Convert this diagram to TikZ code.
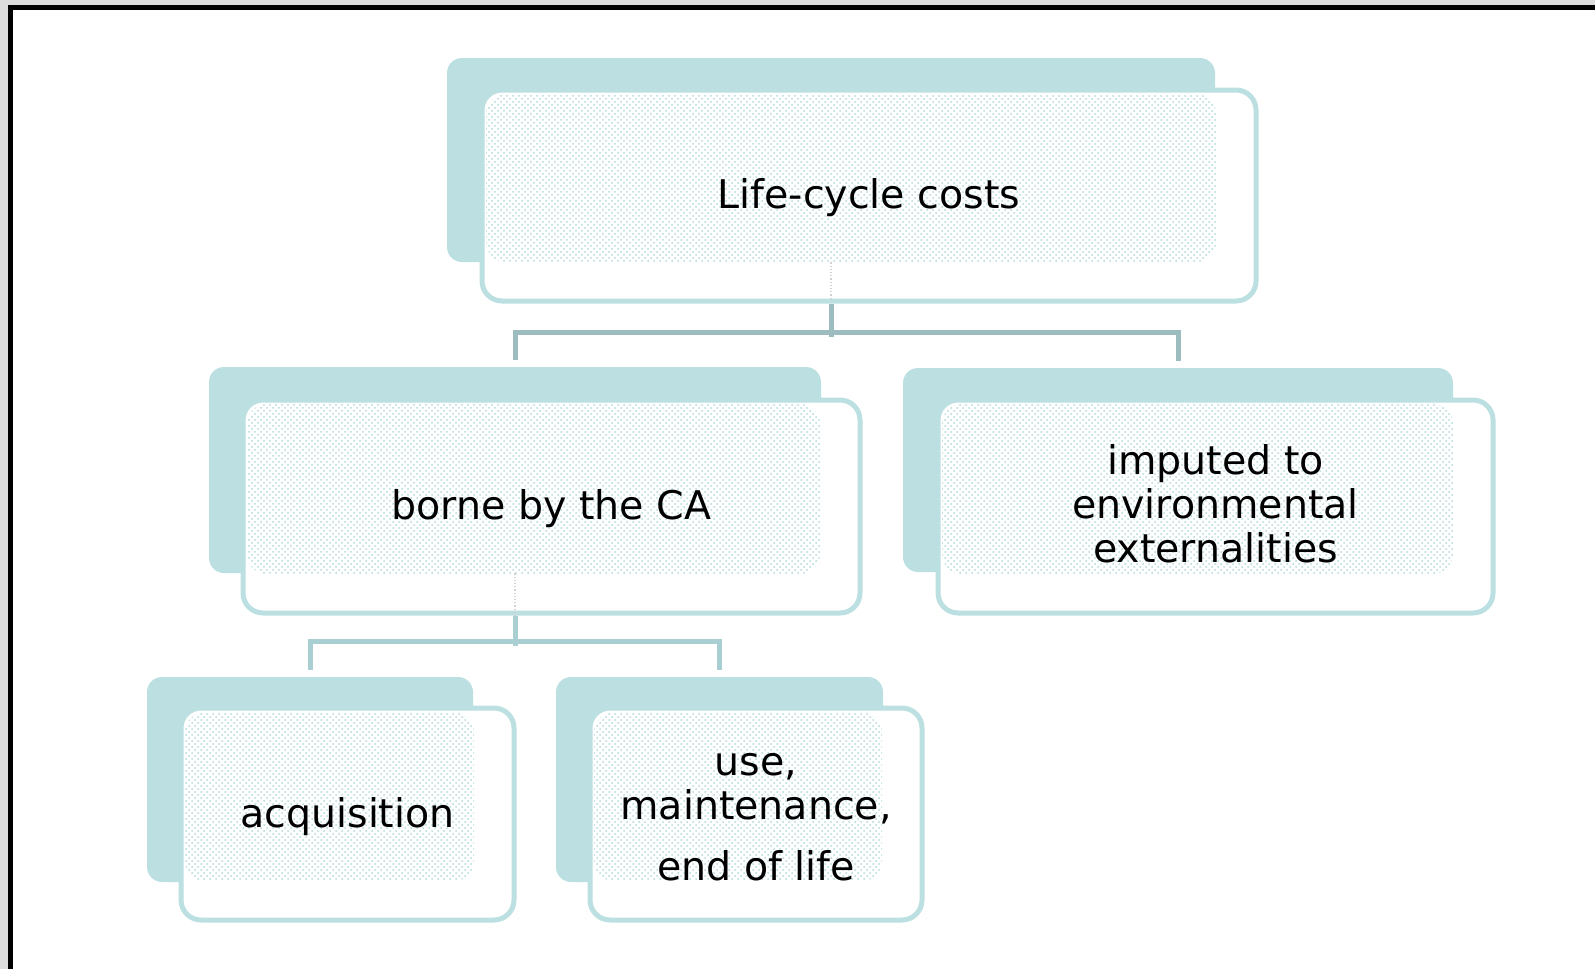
\documentclass[tikz,border=0pt]{standalone}
\usepackage{fontspec}
\setmainfont{DejaVu Sans}
\usetikzlibrary{patterns}

\definecolor{boxteal}{HTML}{BCE0E2}
\definecolor{dotteal}{HTML}{B3D9DC}
\definecolor{linktop}{HTML}{9CBCBF}
\definecolor{linklow}{HTML}{A9CFD2}
\definecolor{framegray}{HTML}{DDDDDD}

\tikzset{
  back/.style={fill=boxteal, rounded corners=7.5pt, inner sep=0pt},
  front/.style={draw=boxteal, line width=2.5pt, fill=white, rounded corners=10pt,
    inner sep=0pt, align=center, font=\fontsize{19.75pt}{22pt}\selectfont,
    path picture={\fill[pattern=crosshatch dots, pattern color=dotteal]
      ([shift={(2pt,-2pt)}]path picture bounding box.north west) rectangle
      ([shift={(-20pt,19.5pt)}]path picture bounding box.south east);}},
  oneline/.style={text height=15pt, text depth=2pt},
  link/.style={line width=2.5pt},
  hidden/.style={densely dotted, line width=0.6pt, black!18}
}

\begin{document}
\begin{tikzpicture}[x=0.5pt, y=-0.5pt]
        \useasboundingbox (0,0) rectangle (1595,969);
        % frame
        \fill[framegray] (0,0) rectangle (1595,969);
        \fill[white] (8,5) rectangle (1595,969);
        \fill[black] (8,5) rectangle (1595,10);
        \fill[black] (8,5) rectangle (13,969);

        % back boxes
        \node[back, minimum width=384pt, minimum height=102pt] at (831, 160)(lcc){};
        \node[back, minimum width=306pt, minimum height=103pt] at (515, 470)(ca){};
        \node[back, minimum width=275pt, minimum height=102pt] at (1178, 470)(ext){};
        \node[back, minimum width=163pt, minimum height=102.5pt] at (310, 779.5)(acq){};
        \node[back, minimum width=163.5pt, minimum height=102.5pt] at (719.5, 779.5)(use){};

        % front boxes
        \node[front, oneline, minimum width=387pt, minimum height=105.5pt] at (869, 195.5)(lccf){Life-cycle costs};
        \node[front, oneline, minimum width=308.5pt, minimum height=106.5pt] at (551.5, 506.5)(caf){borne by the CA};
        \node[front, text depth=3.5pt, minimum width=277.5pt, minimum height=106.5pt] at (1215.5, 506.5)(extf){imputed to\\environmental\\externalities};
        \node[front, oneline, minimum width=166.5pt, minimum height=106pt] at (347.5, 814)(acqf){acquisition};
        \node[front, text height=66pt, text depth=0pt, minimum width=166pt, minimum height=106pt] at (756, 814)(usef){use,\\maintenance,\\[8.5pt]end of life};

        % connectors
        \draw[hidden] (lcc.south) -- (lccf.south -| lcc.south);
        \draw[hidden] (ca.south) -- (caf.south -| ca.south);
        \draw[link, linktop] (lccf.south -| lcc.south) -- ++(0, 33);
        \draw[link, linktop] ([yshift=3.5pt]ca.north) -- ++(0, -27) -| ([yshift=3.5pt]ext.north);
        \draw[link, linklow] (caf.south -| ca.south) -- ++(0, 30);
        \draw[link, linklow] ([yshift=3.5pt]acq.north) -- ++(0, -28) -| ([yshift=3.5pt]use.north);
    \end{tikzpicture}
\end{document}
